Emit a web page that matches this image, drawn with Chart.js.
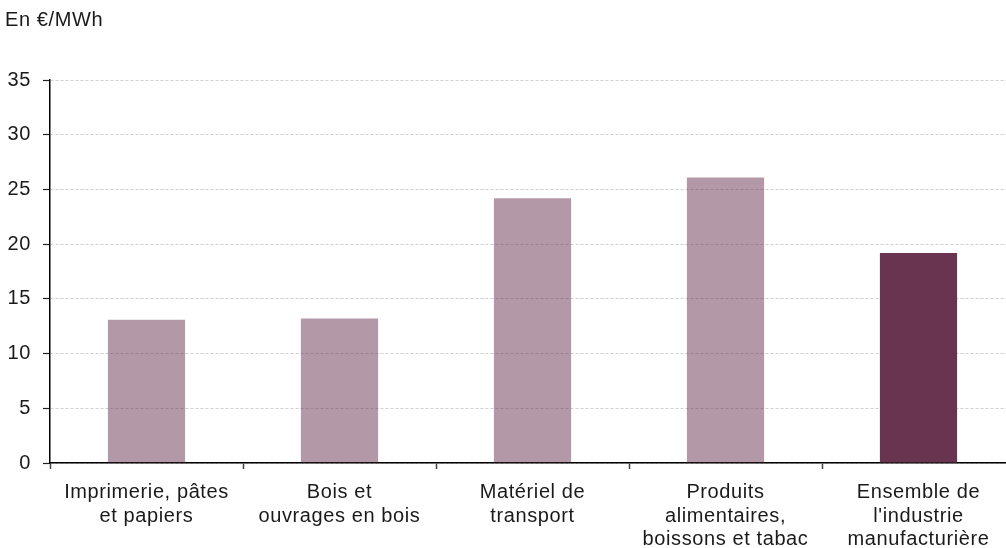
<!DOCTYPE html>
<html lang="fr">
<head>
<meta charset="utf-8">
<title>Prix de l'électricité par secteur</title>
<script src="https://cdn.jsdelivr.net/npm/chart.js@4/dist/chart.umd.min.js"></script>
<style>
  html, body { margin: 0; padding: 0; background: #fff; overflow: hidden; }
  #wrap { width: 1006px; height: 548px; overflow: hidden; }
  canvas { display: block; }
</style>
</head>
<body>
<div id="wrap"><canvas id="chart" width="1016" height="548"></canvas></div>
<script>
// Secteurs industriels (libellés sur plusieurs lignes)
const categories = [
  ["Imprimerie, pâtes", "et papiers"],
  ["Bois et", "ouvrages en bois"],
  ["Matériel de", "transport"],
  ["Produits", "alimentaires,", "boissons et tabac"],
  ["Ensemble de", "l'industrie", "manufacturière"]
];
// Prix moyen en €/MWh
const prices = [13.1, 13.2, 24.2, 26.1, 19.2];
// Graduations de l'axe vertical
const yTicks = [0, 5, 10, 15, 20, 25, 30, 35];
const unitLabel = "En €/MWh";

const sectorColor = "rgba(104, 52, 79, 0.5)";
const totalColor = "#68344f";
const barColors = prices.map((_, i) => i === prices.length - 1 ? totalColor : sectorColor);

const FONT = "'Liberation Sans', Arial, sans-serif";

// Slightly wider lettering for all texts of the chart
// (the canvas state is reset on resize, so it is set again before layout and drawing)
const SPACING = "0.6px";
const letterSpacingPlugin = {
  id: "letterSpacing",
  beforeUpdate(chart) { chart.ctx.letterSpacing = SPACING; },
  beforeLayout(chart) { chart.ctx.letterSpacing = SPACING; },
  beforeDraw(chart) { chart.ctx.letterSpacing = SPACING; }
};

new Chart(document.getElementById("chart"), {
  type: "bar",
  plugins: [letterSpacingPlugin],
  data: {
    labels: categories,
    datasets: [{
      data: prices,
      backgroundColor: barColors,
      borderWidth: 0,
      categoryPercentage: 1,
      barPercentage: 0.4
    }]
  },
  options: {
    responsive: false,
    animation: false,
    layout: { padding: { left: 5, right: 1, top: 0, bottom: 0 } },
    plugins: {
      legend: { display: false },
      tooltip: { enabled: false },
      title: {
        display: true,
        text: unitLabel,
        align: "start",
        color: "#1a1a1a",
        font: { family: FONT, size: 20, weight: "normal", lineHeight: 1.2 },
        padding: { top: 8, bottom: 48 }
      }
    },
    scales: {
      x: {
        offset: true,
        afterFit: (s) => { s.height = 85; },
        grid: {
          display: true,
          offset: true,
          drawOnChartArea: false,
          drawTicks: true,
          tickLength: 6,
          tickColor: "#444",
          tickWidth: 1.5
        },
        border: { display: true, color: "#000", width: 1.5 },
        ticks: {
          color: "#1a1a1a",
          padding: 12,
          maxRotation: 0,
          autoSkip: false,
          font: { family: FONT, size: 20, lineHeight: 1.17 }
        }
      },
      y: {
        min: 0,
        max: 35,
        afterFit: (s) => { s.width = 45; },
        afterBuildTicks: (s) => { s.ticks = yTicks.map(v => ({ value: v })); },
        grid: {
          color: "#cfcfcf",
          lineWidth: 1,
          drawTicks: true,
          tickLength: 7,
          tickColor: "#222",
          tickWidth: 1.2,
          tickBorderDash: []
        },
        border: { display: true, color: "#000", width: 1.5, dash: [3, 2] },
        ticks: {
          color: "#1a1a1a",
          padding: 12,
          font: { family: FONT, size: 20 }
        }
      }
    }
  }
});
</script>
</body>
</html>
